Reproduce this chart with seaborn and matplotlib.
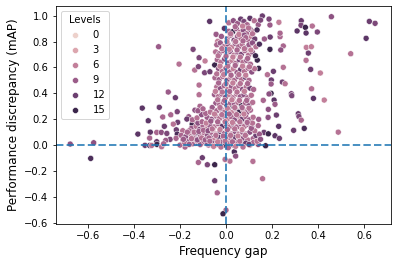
import matplotlib
matplotlib.use('Agg')
import matplotlib.pyplot as plt
import seaborn as sns
import pandas as pd

# outlying points, read one by one
gap_sparse = [
    0.01, 0.03, 0.458, 0.623, 0.648, 0.609, 0.542, 0.327, 0.326, 0.345,
    0.375, 0.309, 0.348, 0.397, 0.349, 0.371, 0.358, 0.348, 0.368, 0.410,
    0.249, 0.206, 0.180, 0.245, 0.257, 0.197, 0.196, 0.372, 0.284, 0.286,
    0.196, 0.187, 0.380, 0.427, 0.162, 0.209, 0.213, 0.184, 0.219, 0.314,
    0.317, 0.327, 0.183, 0.142, 0.229, 0.294, 0.340, 0.488, 0.165, 0.184,
    0.213, 0.232, 0.104, 0.172, 0.036, 0.042, 0.017, -0.004, 0.117, 0.159,
    -0.049, -0.081, -0.103, -0.049, -0.038, 0.0, -0.013, -0.120, -0.293, -0.143,
    -0.204, -0.136, -0.117, -0.120, -0.117, -0.251, -0.220, -0.117, -0.290, -0.364,
    -0.212, -0.240, -0.275, -0.338, -0.162, -0.170, -0.210, -0.229, -0.147, -0.268,
    -0.216, -0.188, -0.329, -0.383, -0.301, -0.281, -0.257, -0.212, -0.332, -0.301,
    -0.243, -0.262, -0.217, -0.187, -0.158, -0.147, -0.178, -0.178, -0.150, -0.352,
    -0.332, -0.323, -0.300, -0.280, -0.271, -0.677, -0.575, -0.588, -0.071, -0.091,
    -0.093, -0.070, -0.049, -0.043, -0.036, 0.136, 0.142, 0.191, 0.235, 0.235,
    0.249, 0.238, 0.230, 0.191, 0.187, 0.158, 0.167, 0.192, -0.113, -0.135,
]
perf_sparse = [
    0.5, 0.3, 0.992, 0.956, 0.941, 0.825, 0.706, 0.961, 0.926, 0.910,
    0.920, 0.882, 0.866, 0.874, 0.755, 0.760, 0.711, 0.655, 0.585, 0.557,
    0.601, 0.570, 0.544, 0.487, 0.474, 0.503, 0.472, 0.435, 0.397, 0.382,
    0.400, 0.395, 0.361, 0.348, 0.346, 0.348, 0.315, 0.276, 0.232, 0.242,
    0.221, 0.193, 0.214, 0.199, 0.145, 0.114, 0.129, 0.100, 0.098, 0.087,
    0.072, 0.052, 0.010, -0.005, -0.052, -0.085, -0.124, -0.111, -0.126, -0.260,
    -0.152, -0.152, -0.098, -0.276, -0.369, -0.503, -0.531, -0.134, 0.760, 0.740,
    0.626, 0.580, 0.675, 0.606, 0.464, 0.410, 0.366, 0.389, 0.292, 0.286,
    0.258, 0.234, 0.217, 0.188, 0.219, 0.201, 0.176, 0.162, 0.162, 0.145,
    0.118, 0.111, 0.100, 0.085, 0.098, 0.098, 0.090, 0.085, 0.054, 0.026,
    0.044, 0.036, 0.052, 0.041, 0.031, 0.080, -0.015, 0.012, 0.011, -0.002,
    -0.003, -0.003, 0.005, -0.013, 0.010, 0.008, 0.018, -0.103, 0.956, 0.650,
    0.559, 0.567, 0.619, 0.856, 0.802, 0.657, 0.593, 0.740, 0.838, 0.865,
    0.766, 0.735, 0.949, 0.928, 0.974, 0.998, 0.820, 0.835, 0.300, 0.270,
]
level_sparse = [
    0, 16, 10, 12, 11, 13, 7, 12, 11, 15,
    7, 13, 13, 11, 6, 6, 12, 7, 12, 6,
    7, 12, 7, 12, 7, 12, 9, 7, 11, 11,
    15, 10, 13, 6, 8, 13, 9, 10, 12, 12,
    11, 8, 10, 9, 13, 12, 14, 7, 12, 15,
    13, 12, 12, 15, 14, 10, 7, 7, 7, 7,
    15, 11, 12, 12, 8, 8, 15, 8, 9, 11,
    7, 7, 11, 11, 7, 9, 12, 7, 12, 13,
    11, 8, 8, 13, 9, 12, 12, 7, 15, 12,
    12, 7, 13, 13, 8, 10, 11, 14, 8, 12,
    11, 9, 8, 10, 8, 14, 8, 12, 8, 12,
    13, 7, 15, 7, 8, 10, 10, 14, 13, 6,
    11, 12, 15, 9, 6, 15, 15, 15, 8, 8,
    8, 10, 6, 9, 11, 12, 9, 12, 8, 10,
]

# the dense column around zero, rows from the top down
gap_core = [
    0.012, 0.032, 0.050, 0.064, 0.078, 0.092, 0.104, 0.123, 0.140, 0.150,
    -0.007, 0.012, 0.029, 0.045, 0.060, 0.075, 0.090, 0.105, 0.120, 0.135,
    -0.020, 0.005, 0.020, 0.035, 0.050, 0.065, 0.080, 0.095, 0.110, 0.125,
    -0.040, -0.025, -0.010, 0.008, 0.024, 0.040, 0.055, 0.070, 0.085, 0.100,
    0.115, 0.130, 0.145, -0.045, -0.030, -0.012, 0.003, 0.018, 0.034, 0.050,
    0.066, 0.082, 0.098, 0.114, 0.128, -0.038, -0.022, -0.006, 0.010, 0.026,
    0.042, 0.058, 0.074, 0.090, 0.106, -0.032, -0.016, 0.000, 0.016, 0.032,
    0.048, 0.064, 0.080, 0.096, 0.112, 0.124, -0.048, -0.030, -0.014, 0.004,
    0.020, 0.036, 0.052, 0.068, 0.084, 0.100, -0.040, -0.024, -0.008, 0.008,
    0.024, 0.040, 0.056, 0.072, 0.088, 0.104, 0.120, -0.050, -0.034, -0.018,
    -0.002, 0.014, 0.030, 0.046, 0.062, 0.078, 0.094, 0.110, -0.044, -0.028,
    -0.012, 0.004, 0.020, 0.036, 0.052, 0.068, 0.084, 0.100, 0.116, -0.060,
    -0.040, -0.022, -0.006, 0.010, 0.026, 0.042, 0.058, 0.074, 0.090, 0.106,
    -0.082, -0.062, -0.044, -0.028, -0.010, 0.006, 0.022, 0.038, 0.054, 0.070,
    0.086, 0.102, 0.118, -0.108, -0.090, -0.070, -0.052, -0.034, -0.016, 0.000,
    0.016, 0.032, 0.048, 0.064, 0.080, 0.096, 0.112, -0.100, -0.082, -0.062,
    -0.044, -0.026, -0.008, 0.008, 0.024, 0.040, 0.056, 0.072, 0.088, 0.104,
    -0.120, -0.104, -0.086, -0.068, -0.050, -0.032, -0.014, 0.004, 0.022, 0.040,
    0.058, 0.076, 0.094, 0.118, -0.132, -0.112, -0.094, -0.076, -0.058, -0.040,
    -0.022, -0.004, 0.014, 0.032, 0.050, 0.068, 0.086, 0.104, 0.122, 0.140,
]
perf_core = [
    0.945, 0.961, 0.940, 0.974, 0.955, 0.930, 0.980, 0.961, 0.930, 0.966,
    0.902, 0.880, 0.876, 0.900, 0.870, 0.890, 0.860, 0.895, 0.875, 0.890,
    0.840, 0.820, 0.850, 0.810, 0.840, 0.825, 0.850, 0.815, 0.840, 0.820,
    0.775, 0.790, 0.760, 0.780, 0.755, 0.785, 0.760, 0.780, 0.750, 0.775,
    0.790, 0.760, 0.780, 0.720, 0.705, 0.730, 0.700, 0.725, 0.695, 0.720,
    0.700, 0.730, 0.695, 0.720, 0.690, 0.660, 0.640, 0.665, 0.635, 0.655,
    0.630, 0.660, 0.640, 0.655, 0.625, 0.590, 0.570, 0.595, 0.565, 0.590,
    0.560, 0.585, 0.570, 0.595, 0.565, 0.590, 0.520, 0.505, 0.530, 0.500,
    0.525, 0.500, 0.530, 0.505, 0.525, 0.500, 0.450, 0.435, 0.460, 0.430,
    0.455, 0.435, 0.460, 0.430, 0.450, 0.440, 0.430, 0.390, 0.375, 0.395,
    0.370, 0.390, 0.365, 0.395, 0.375, 0.390, 0.365, 0.385, 0.325, 0.310,
    0.330, 0.305, 0.325, 0.310, 0.330, 0.305, 0.325, 0.310, 0.330, 0.290,
    0.265, 0.280, 0.255, 0.275, 0.250, 0.280, 0.255, 0.275, 0.250, 0.270,
    0.215, 0.200, 0.225, 0.205, 0.225, 0.200, 0.220, 0.195, 0.225, 0.200,
    0.220, 0.195, 0.215, 0.160, 0.145, 0.165, 0.140, 0.165, 0.145, 0.165,
    0.140, 0.160, 0.140, 0.165, 0.145, 0.160, 0.140, 0.100, 0.085, 0.105,
    0.085, 0.105, 0.090, 0.105, 0.085, 0.105, 0.085, 0.100, 0.085, 0.100,
    0.045, 0.060, 0.040, 0.060, 0.040, 0.060, 0.045, 0.060, 0.040, 0.060,
    0.040, 0.055, 0.040, 0.050, 0.015, 0.005, 0.020, 0.000, 0.015, 0.005,
    0.020, 0.000, 0.015, 0.000, 0.020, 0.005, 0.015, 0.000, 0.020, 0.005,
]
level_core = [
    7, 10, 9, 12, 11, 8, 13, 7, 9, 11,
    13, 8, 15, 9, 7, 10, 8, 11, 7, 14,
    9, 7, 8, 11, 9, 7, 10, 8, 6, 12,
    8, 9, 7, 10, 6, 9, 8, 7, 11, 9,
    10, 7, 14, 7, 9, 8, 6, 10, 7, 9,
    11, 8, 7, 10, 15, 8, 7, 10, 9, 6,
    8, 11, 7, 9, 8, 10, 7, 9, 8, 6,
    9, 12, 7, 8, 10, 7, 8, 9, 7, 10,
    6, 8, 9, 7, 12, 8, 7, 10, 8, 6,
    9, 7, 8, 10, 7, 12, 8, 9, 7, 8,
    10, 6, 8, 7, 9, 10, 8, 7, 9, 8,
    7, 12, 8, 9, 7, 15, 8, 10, 7, 9,
    8, 10, 7, 9, 6, 8, 15, 7, 9, 8,
    9, 10, 8, 7, 9, 6, 8, 10, 7, 12,
    8, 9, 7, 8, 10, 9, 7, 8, 13, 9,
    7, 10, 8, 9, 7, 8, 10, 9, 8, 10,
    7, 12, 9, 6, 8, 10, 7, 9, 8, 10,
    9, 7, 8, 10, 6, 13, 9, 7, 8, 12,
    9, 10, 7, 8, 9, 12, 8, 7, 10, 8,
    9, 13, 7, 10, 8, 9, 12, 7, 8, 10,
]

# the lump left of zero, near the horizontal line
gap_lump = [
    -0.195, -0.175, -0.155, -0.140, -0.125, -0.110, -0.095, -0.080, -0.065, -0.150,
    -0.130, -0.115, -0.100, -0.085, -0.070, -0.165, -0.145, -0.128, -0.112, -0.096,
    -0.080, -0.200, -0.180, -0.160, -0.142, -0.124, -0.106, -0.090, -0.074, -0.130,
    0.130, 0.145, 0.120, 0.135, 0.150, 0.125, 0.110, 0.140, 0.115, 0.100,
    -0.160, -0.138, -0.118, -0.098, -0.078, -0.058, -0.185, -0.168, -0.150, -0.122,
    -0.104, -0.086, -0.066, -0.146, -0.126, -0.106, -0.088, -0.068, -0.122, -0.100,
]
perf_lump = [
    0.075, 0.065, 0.090, 0.070, 0.095, 0.070, 0.095, 0.075, 0.100, 0.130,
    0.145, 0.120, 0.150, 0.125, 0.150, 0.025, 0.010, 0.035, 0.005, 0.030,
    0.010, 0.000, 0.020, 0.005, 0.050, 0.040, 0.055, 0.040, 0.055, 0.185,
    0.075, 0.085, 0.020, 0.030, 0.045, 0.110, 0.130, 0.150, 0.170, 0.005,
    0.110, 0.100, 0.105, 0.115, 0.110, 0.120, 0.045, 0.100, 0.050, 0.170,
    0.180, 0.170, 0.185, 0.195, 0.210, 0.235, 0.245, 0.255, 0.265, 0.280,
]
level_lump = [
    8, 10, 7, 9, 12, 8, 7, 10, 8, 9,
    7, 11, 8, 6, 9, 10, 8, 7, 9, 8,
    10, 8, 7, 9, 8, 10, 7, 9, 8, 7,
    12, 9, 8, 7, 10, 7, 9, 8, 7, 12,
    8, 7, 9, 8, 10, 7, 9, 8, 7, 10,
    8, 6, 9, 8, 7, 10, 8, 7, 9, 8,
]

# lighter points drawn last, filling the gaps in the column
gap_fill = [
    0.040, 0.072, 0.098, 0.020, 0.056, 0.086, 0.115, 0.004, 0.042, 0.074,
    -0.018, 0.014, 0.048, 0.080, 0.108, -0.034, 0.000, 0.030, 0.062, 0.094,
    -0.026, 0.008, 0.040, 0.072, 0.102, -0.040, -0.010, 0.022, 0.056, 0.086,
    -0.032, 0.000, 0.030, 0.062, 0.094, -0.046, -0.016, 0.016, 0.048, 0.080,
    -0.036, -0.006, 0.026, 0.058, 0.090, -0.026, 0.006, 0.038, 0.070, 0.100,
    -0.050, -0.018, 0.014, 0.046, 0.078, -0.036, -0.004, 0.028, 0.060, 0.092,
    -0.060, -0.026, 0.006, 0.038, 0.070, -0.044, -0.012, 0.020, 0.052, 0.084,
    -0.070, -0.036, -0.004, 0.028, 0.060, -0.054, -0.022, 0.010, 0.042, 0.074,
]
perf_fill = [
    0.915, 0.920, 0.905, 0.860, 0.855, 0.830, 0.860, 0.800, 0.800, 0.805,
    0.745, 0.740, 0.735, 0.745, 0.735, 0.690, 0.685, 0.680, 0.680, 0.670,
    0.610, 0.610, 0.615, 0.610, 0.605, 0.550, 0.545, 0.540, 0.545, 0.540,
    0.480, 0.475, 0.480, 0.475, 0.475, 0.415, 0.410, 0.415, 0.410, 0.415,
    0.350, 0.345, 0.350, 0.345, 0.345, 0.290, 0.285, 0.290, 0.290, 0.285,
    0.240, 0.235, 0.240, 0.235, 0.240, 0.180, 0.180, 0.175, 0.180, 0.175,
    0.125, 0.120, 0.120, 0.125, 0.120, 0.075, 0.070, 0.075, 0.070, 0.075,
    0.030, 0.025, 0.030, 0.025, 0.030, -0.010, -0.015, -0.020, -0.010, -0.015,
]
level_fill = [
    8, 6, 7, 7, 6, 8, 7, 6, 7, 8,
    7, 6, 8, 7, 6, 7, 8, 6, 7, 8,
    6, 7, 8, 6, 7, 7, 6, 8, 7, 6,
    8, 7, 6, 7, 8, 6, 7, 8, 7, 6,
    7, 8, 6, 7, 8, 7, 6, 7, 8, 7,
    6, 7, 8, 7, 6, 8, 7, 6, 7, 8,
    7, 6, 8, 7, 6, 7, 8, 7, 6, 7,
    8, 6, 7, 8, 7, 6, 7, 8, 6, 7,
]

df = pd.DataFrame({
    'gap': gap_sparse + gap_core + gap_lump + gap_fill,
    'perf': perf_sparse + perf_core + perf_lump + perf_fill,
    'Levels': level_sparse + level_core + level_lump + level_fill,
})

plt.figure(figsize=(397 / 72, 265 / 72), dpi=72)
ax = sns.scatterplot(data=df, x='gap', y='perf', hue='Levels', s=36)
ax.axhline(0, color='tab:blue', ls='--', lw=2, alpha=0.8)
ax.axvline(0, color='tab:blue', ls='--', lw=2, alpha=0.8)
ax.set_xlim(-0.741, 0.715)
ax.set_ylim(-0.61, 1.075)
ax.set_yticks([-0.6, -0.4, -0.2, 0.0, 0.2, 0.4, 0.6, 0.8, 1.0])
ax.set_xlabel('Frequency gap', fontsize=12)
ax.set_ylabel('Performance discrepancy (mAP)', fontsize=12)
ax.legend(title='Levels', loc='upper left')
plt.subplots_adjust(left=55.5 / 397, right=390.5 / 397, top=1 - 6 / 265, bottom=1 - 224 / 265)
plt.savefig('out.png', dpi=72)
